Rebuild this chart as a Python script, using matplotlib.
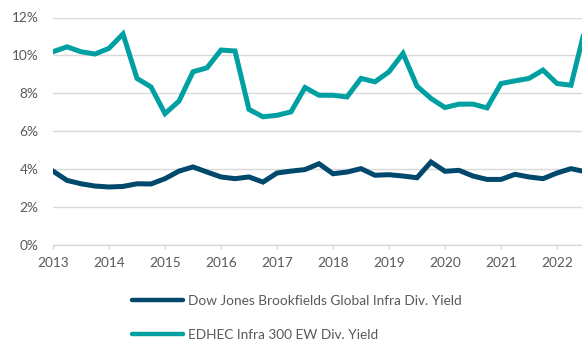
import matplotlib
matplotlib.use("Agg")
import matplotlib.pyplot as plt
import numpy as np

start_year = 2013.0
quarter_step = 0.25

dow_jones = [3.88, 3.39, 3.21, 3.09, 3.04, 3.07, 3.21, 3.20, 3.48, 3.88,
             4.10, 3.83, 3.57, 3.48, 3.57, 3.30, 3.78, 3.88, 3.96, 4.27,
             3.74, 3.83, 4.01, 3.66, 3.69, 3.62, 3.53, 4.36, 3.87, 3.92,
             3.62, 3.44, 3.44, 3.71, 3.57, 3.48, 3.78, 4.01, 3.85]
edhec = [10.19, 10.45, 10.19, 10.07, 10.37, 11.13, 8.78, 8.33, 6.92, 7.58,
         9.13, 9.34, 10.28, 10.23, 7.14, 6.75, 6.83, 7.01, 8.30, 7.89,
         7.89, 7.80, 8.78, 8.60, 9.13, 10.10, 8.37, 7.72, 7.24, 7.42,
         7.42, 7.22, 8.51, 8.65, 8.78, 9.22, 8.51, 8.42, 11.40]
years = [2013, 2014, 2015, 2016, 2017, 2018, 2019, 2020, 2021, 2022]
y_ticks = [0, 2, 4, 6, 8, 10, 12]
labels = ["Dow Jones Brookfields Global Infra Div. Yield",
          "EDHEC Infra 300 EW Div. Yield"]

x = start_year + quarter_step * np.arange(len(dow_jones))

plt.rcParams['font.family'] = ['Lato', 'DejaVu Sans']
fig = plt.figure(figsize=(5.82, 3.45), dpi=100)
ax = fig.add_axes([53/582, 1 - 244.5/345, 1 - 53/582, (244.5 - 17.5)/345])

c_dark = '#00486C'
c_teal = '#00A0A2'
ax.plot(x, dow_jones, color=c_dark, lw=3.6, solid_joinstyle='miter', label=labels[0], zorder=3)
ax.plot(x, edhec, color=c_teal, lw=3.6, solid_joinstyle='miter', label=labels[1], zorder=3)

ax.set_xlim(2013, 2022 + 25/56)
ax.set_ylim(0, 12)
ax.set_yticks(y_ticks)
ax.set_yticklabels([f"{v}%" for v in y_ticks])
ax.set_xticks(years)
ax.set_xticklabels([str(y) for y in years])

ax.grid(axis='y', color='#d9d9d9', lw=1.0, zorder=0)
ax.set_axisbelow(True)
for s in ['top', 'right', 'left']:
    ax.spines[s].set_visible(False)
ax.spines['bottom'].set_color('#d9d9d9')
ax.spines['bottom'].set_linewidth(1.0)
ax.tick_params(axis='y', length=0, pad=10.5, labelsize=9.8, labelcolor='#595959')
ax.tick_params(axis='x', length=3, width=1.0, color='#d9d9d9', pad=6,
               labelsize=9.8, labelcolor='#595959')

leg = fig.legend(loc='upper left', bbox_to_anchor=(132/582, 1 - 295/345),
                 frameon=False, ncol=1, handlelength=3.75, handletextpad=0.37,
                 labelspacing=1.6, fontsize=9.8, borderaxespad=0, borderpad=0)
for t in leg.get_texts():
    t.set_color('#595959')
for h in leg.get_lines():
    h.set_linewidth(3.2)
    h.set_solid_capstyle('round')

fig.savefig("out.png", dpi=100)
